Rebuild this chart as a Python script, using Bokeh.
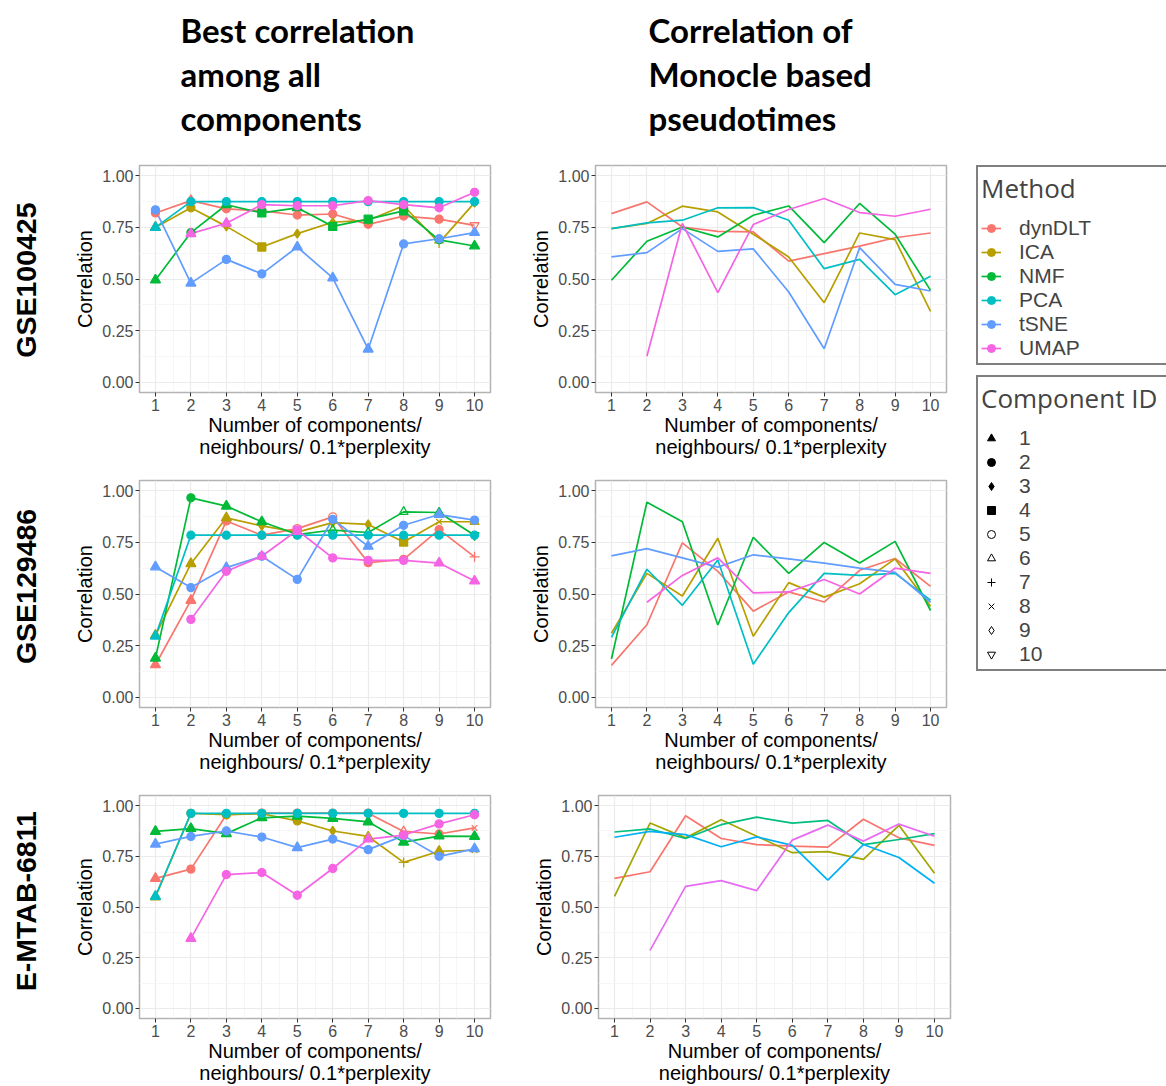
import math
from bokeh.plotting import figure
from bokeh.layouts import row, column
from bokeh.models import (ColumnDataSource, Range1d, FixedTicker, Label, Legend,
                          LegendItem, PrintfTickFormatter)
from bokeh.embed import file_html
from bokeh.resources import INLINE

nan = float("nan")

# ---------------------------------------------------------------- data
steps = [1, 2, 3, 4, 5, 6, 7, 8, 9, 10]
methods = ["dynDLT", "ICA", "NMF", "PCA", "tSNE", "UMAP"]
method_colors = ["#F8766D", "#B79F00", "#00BA38", "#00BFC4", "#619CFF", "#F564E3"]
methods_five = ["dynDLT", "ICA", "NMF", "PCA", "UMAP"]
colors_five = ["#F8766D", "#A3A500", "#00BF7D", "#00B0F6", "#E76BF3"]
component_ids = [1, 2, 3, 4, 5, 6, 7, 8, 9, 10]
datasets = ["GSE100425", "GSE129486", "E-MTAB-6811"]

# best correlation among all components, with the component that achieved it
best_gse100425 = {
    "dynDLT": [0.82, 0.88, 0.84, 0.83, 0.81, 0.815, 0.765, 0.805, 0.79, 0.76],
    "ICA":    [0.75, 0.845, 0.755, 0.655, 0.72, 0.775, 0.785, 0.855, 0.675, 0.87],
    "NMF":    [0.495, 0.725, 0.86, 0.82, 0.845, 0.755, 0.79, 0.83, 0.69, 0.66],
    "PCA":    [0.75, 0.875, 0.875, 0.875, 0.875, 0.875, 0.875, 0.875, 0.875, 0.875],
    "tSNE":   [0.835, 0.48, 0.595, 0.525, 0.655, 0.505, 0.16, 0.67, 0.695, 0.725],
    "UMAP":   [nan, 0.72, 0.77, 0.86, 0.855, 0.855, 0.88, 0.86, 0.845, 0.92],
}
comp_gse100425 = {
    "dynDLT": [2, 1, 2, 2, 2, 2, 2, 2, 2, 10],
    "ICA":    [1, 2, 3, 4, 3, 3, 3, 3, 7, 3],
    "NMF":    [1, 2, 1, 4, 1, 4, 4, 4, 2, 1],
    "PCA":    [1, 2, 2, 2, 2, 2, 2, 2, 2, 2],
    "tSNE":   [2, 1, 2, 2, 1, 1, 1, 2, 2, 1],
    "UMAP":   [0, 1, 1, 2, 2, 2, 2, 2, 2, 2],
}
best_gse129486 = {
    "dynDLT": [0.157, 0.469, 0.854, 0.785, 0.817, 0.874, 0.652, 0.668, 0.812, 0.68],
    "ICA":    [0.30, 0.647, 0.869, 0.83, 0.80, 0.846, 0.837, 0.752, 0.85, 0.85],
    "NMF":    [0.189, 0.966, 0.926, 0.85, 0.788, 0.81, 0.798, 0.898, 0.895, 0.785],
    "PCA":    [0.296, 0.785, 0.785, 0.785, 0.785, 0.785, 0.785, 0.785, 0.785, 0.785],
    "tSNE":   [0.631, 0.531, 0.628, 0.683, 0.571, 0.862, 0.731, 0.833, 0.885, 0.858],
    "UMAP":   [nan, 0.377, 0.61, 0.683, 0.809, 0.675, 0.663, 0.663, 0.65, 0.563],
}
comp_gse129486 = {
    "dynDLT": [1, 1, 2, 2, 5, 5, 2, 2, 2, 7],
    "ICA":    [1, 1, 1, 3, 3, 3, 3, 4, 8, 6],
    "NMF":    [1, 2, 1, 1, 2, 6, 6, 6, 6, 10],
    "PCA":    [1, 2, 2, 2, 2, 2, 2, 2, 2, 2],
    "tSNE":   [1, 2, 1, 2, 2, 2, 1, 2, 1, 2],
    "UMAP":   [0, 2, 2, 1, 4, 2, 2, 2, 1, 1],
}
best_emtab6811 = {
    "dynDLT": [0.641, 0.687, 0.955, 0.963, 0.963, 0.963, 0.963, 0.873, 0.86, 0.89],
    "ICA":    [0.55, 0.962, 0.955, 0.96, 0.925, 0.875, 0.848, 0.72, 0.775, 0.78],
    "NMF":    [0.873, 0.887, 0.862, 0.94, 0.948, 0.937, 0.92, 0.82, 0.85, 0.848],
    "PCA":    [0.552, 0.962, 0.962, 0.962, 0.962, 0.962, 0.962, 0.962, 0.962, 0.962],
    "tSNE":   [0.81, 0.848, 0.875, 0.845, 0.793, 0.835, 0.783, 0.852, 0.75, 0.787],
    "UMAP":   [nan, 0.345, 0.66, 0.67, 0.558, 0.69, 0.835, 0.855, 0.91, 0.955],
}
comp_emtab6811 = {
    "dynDLT": [1, 2, 2, 2, 2, 2, 2, 6, 2, 8],
    "ICA":    [1, 2, 2, 2, 2, 3, 6, 7, 1, 8],
    "NMF":    [1, 1, 1, 1, 1, 1, 1, 1, 1, 1],
    "PCA":    [1, 2, 2, 2, 2, 2, 2, 2, 2, 2],
    "tSNE":   [1, 2, 2, 2, 1, 2, 2, 2, 2, 1],
    "UMAP":   [0, 1, 2, 2, 2, 2, 1, 2, 2, 2],
}

# correlation of Monocle based pseudotimes
monocle_gse100425 = {
    "dynDLT": [0.817, 0.874, 0.752, 0.731, 0.728, 0.587, 0.623, 0.659, 0.70, 0.723],
    "ICA":    [0.744, 0.769, 0.853, 0.825, 0.717, 0.607, 0.385, 0.723, 0.691, 0.343],
    "NMF":    [0.494, 0.683, 0.752, 0.704, 0.809, 0.854, 0.676, 0.866, 0.717, 0.445],
    "PCA":    [0.744, 0.772, 0.785, 0.845, 0.846, 0.785, 0.55, 0.595, 0.424, 0.513],
    "tSNE":   [0.607, 0.628, 0.744, 0.634, 0.646, 0.437, 0.162, 0.652, 0.474, 0.442],
    "UMAP":   [nan, 0.126, 0.769, 0.434, 0.764, 0.837, 0.89, 0.822, 0.804, 0.838],
}
monocle_gse129486 = {
    "dynDLT": [0.154, 0.351, 0.748, 0.61, 0.417, 0.51, 0.461, 0.615, 0.672, 0.537],
    "ICA":    [0.31, 0.60, 0.49, 0.77, 0.295, 0.555, 0.485, 0.55, 0.67, 0.44],
    "NMF":    [0.185, 0.945, 0.85, 0.35, 0.775, 0.60, 0.75, 0.65, 0.755, 0.42],
    "PCA":    [0.29, 0.62, 0.445, 0.665, 0.16, 0.41, 0.60, 0.59, 0.60, 0.47],
    "tSNE":   [0.685, 0.72, 0.675, 0.63, 0.69, 0.67, 0.65, 0.625, 0.605, 0.46],
    "UMAP":   [nan, 0.46, 0.59, 0.675, 0.505, 0.51, 0.57, 0.50, 0.625, 0.60],
}
monocle_emtab6811 = {
    "dynDLT": [0.641, 0.674, 0.95, 0.838, 0.808, 0.80, 0.795, 0.933, 0.841, 0.804],
    "ICA":    [0.553, 0.914, 0.841, 0.93, 0.849, 0.768, 0.773, 0.735, 0.903, 0.666],
    "NMF":    [0.87, 0.885, 0.838, 0.906, 0.943, 0.914, 0.927, 0.808, 0.833, 0.862],
    "PCA":    [0.844, 0.873, 0.857, 0.797, 0.846, 0.804, 0.633, 0.808, 0.744, 0.617],
    "UMAP":   [nan, 0.286, 0.602, 0.63, 0.581, 0.83, 0.904, 0.825, 0.909, 0.849],
}

# ---------------------------------------------------------------- styling
AXIS_FONT = "Liberation Sans"
X_TITLE = "Number of components/\nneighbours/ 0.1*perplexity"

# component id -> (marker, filled, size)
MARKERS = {
    1: ("triangle", True, 10), 2: ("circle", True, 8), 3: ("diamond", True, 9),
    4: ("square", True, 8), 5: ("circle", False, 8), 6: ("triangle", False, 9),
    7: ("cross", False, 10), 8: ("x", False, 8), 9: ("diamond", False, 10),
    10: ("inverted_triangle", False, 9),
}


def panel(values, colors, names, comps=None, height=315, left=89, right=15,
          bottom=73):
    p = figure(width=455, height=height, x_range=Range1d(0.55, 10.45),
               y_range=Range1d(-0.05, 1.05), output_backend="svg",
               toolbar_location=None, min_border_left=left,
               min_border_right=right, min_border_top=15,
               min_border_bottom=bottom)
    p.background_fill_color = "white"
    p.border_fill_color = "white"
    p.outline_line_color = "#B3B3B3"
    p.outline_line_width = 1.5

    p.xaxis.ticker = FixedTicker(ticks=steps,
                                 minor_ticks=[s + 0.5 for s in steps[:-1]])
    p.yaxis.ticker = FixedTicker(ticks=[0, 0.25, 0.5, 0.75, 1.0],
                                 minor_ticks=[0.125, 0.375, 0.625, 0.875])
    p.yaxis.formatter = PrintfTickFormatter(format="%.2f")
    p.xgrid.grid_line_color = "#EBEBEB"
    p.ygrid.grid_line_color = "#EBEBEB"
    p.xgrid.grid_line_width = 1.2
    p.ygrid.grid_line_width = 1.2
    p.xgrid.minor_grid_line_color = "#F4F4F4"
    p.ygrid.minor_grid_line_color = "#F4F4F4"
    p.xgrid.minor_grid_line_width = 0.8
    p.ygrid.minor_grid_line_width = 0.8

    p.axis.axis_line_color = None
    p.axis.major_tick_line_color = "#333333"
    p.axis.major_tick_out = 4
    p.axis.major_tick_in = 0
    p.axis.minor_tick_line_color = None
    p.axis.major_label_text_font = AXIS_FONT
    p.axis.major_label_text_font_size = "16px"
    p.axis.major_label_text_color = "#4D4D4D"
    p.axis.major_label_standoff = 2
    p.axis.axis_label_text_font = AXIS_FONT
    p.axis.axis_label_text_font_size = "20px"
    p.axis.axis_label_text_font_style = "normal"
    p.axis.axis_label_text_color = "black"
    p.axis.axis_label_standoff = 3
    p.xaxis.axis_label_standoff = 0
    p.xaxis.axis_label = X_TITLE
    p.xaxis.axis_label_text_line_height = 1.0
    p.yaxis.axis_label = "Correlation"

    for name, color in zip(names, colors):
        p.line(steps, values[name], line_color=color, line_width=1.7)

    if comps is not None:
        for name, color in zip(names, colors):
            xs, ys, mk, fa, sz = [], [], [], [], []
            for s, v, c in zip(steps, values[name], comps[name]):
                if c == 0 or v != v:
                    continue
                m, filled, size = MARKERS[c]
                xs.append(s)
                ys.append(v)
                mk.append(m)
                fa.append(1.0 if filled else 0.0)
                sz.append(size)
            src = ColumnDataSource(dict(x=xs, y=ys, marker=mk, fill_alpha=fa,
                                        size=sz))
            p.scatter("x", "y", source=src, marker="marker", size="size",
                      fill_color=color, line_color=color,
                      fill_alpha="fill_alpha", line_width=1.3)
    return p


def side_label(text, height, yc):
    f = figure(width=50, height=height, x_range=Range1d(0, 50),
               y_range=Range1d(0, height), x_axis_type=None, y_axis_type=None,
               min_border=0, outline_line_color=None, toolbar_location=None,
               output_backend="svg")
    f.add_layout(Label(x=25, y=yc, text=text, angle=math.pi / 2,
                       text_align="center", text_baseline="middle",
                       text_font=AXIS_FONT, text_font_style="bold",
                       text_font_size="28.5px", text_color="black"))
    return f


# ---------------------------------------------------------------- titles
head = figure(width=960, height=150, x_range=Range1d(0, 960),
              y_range=Range1d(0, 150), x_axis_type=None, y_axis_type=None,
              min_border=0, outline_line_color=None, toolbar_location=None,
              output_backend="svg")
left_title = ["Best correlation", "among all", "components"]
right_title = ["Correlation of", "Monocle based", "pseudotimes"]
for i, (lt, rt) in enumerate(zip(left_title, right_title)):
    yy = 121 - 44 * i
    for xx, t in ((180, lt), (648, rt)):
        head.add_layout(Label(x=xx, y=yy, text=t, text_align="left",
                              text_baseline="middle", text_font="Lato",
                              text_font_style="bold", text_font_size="33px",
                              text_color="black"))

# ---------------------------------------------------------------- panels
p1 = panel(best_gse100425, method_colors, methods, comp_gse100425)
q1 = panel(monocle_gse100425, method_colors, methods, left=90, right=14)
p2 = panel(best_gse129486, method_colors, methods, comp_gse129486)
q2 = panel(monocle_gse129486, method_colors, methods, left=90, right=14)
p3 = panel(best_emtab6811, method_colors, methods, comp_emtab6811,
           height=306, bottom=64)
q3 = panel(monocle_emtab6811, colors_five, methods_five, left=93, right=10,
           height=306, bottom=64)

rows = [
    row(side_label(datasets[0], 315, 156), p1, q1),
    row(side_label(datasets[1], 315, 168), p2, q2),
    row(side_label(datasets[2], 306, 161), p3, q3),
]

# ---------------------------------------------------------------- legends
lg = figure(width=206, height=1086, x_range=Range1d(0, 206),
            y_range=Range1d(0, 1086), x_axis_type=None, y_axis_type=None,
            min_border=0, outline_line_color=None, toolbar_location=None,
            output_backend="svg")

method_items = []
for name, color in zip(methods, method_colors):
    ln = lg.line(x=[nan], y=[nan], line_color=color, line_width=1.7)
    pt = lg.scatter(x=[nan], y=[nan], marker="circle", size=8, color=color)
    method_items.append(LegendItem(label=name, renderers=[ln, pt]))

comp_items = []
for cid in component_ids:
    m, filled, size = MARKERS[cid]
    r = lg.scatter(x=[nan], y=[nan], marker=m, size=size, line_color="black",
                   fill_color="black" if filled else None, line_width=1.0)
    comp_items.append(LegendItem(label=str(cid), renderers=[r]))

common = dict(orientation="vertical", border_line_color="black",
              border_line_width=2.5, padding=3, spacing=0, margin=0,
              glyph_width=20, glyph_height=20, label_height=20,
              label_width=170, label_standoff=18,
              label_text_font=AXIS_FONT, label_text_font_size="21px",
              title_text_font="Open Sans", title_text_font_size="26px",
              title_text_font_style="normal", title_standoff=10,
              background_fill_color="white", background_fill_alpha=1.0)
lg.add_layout(Legend(items=method_items, title="Method", location=(16, 721),
                     **common))
lg.add_layout(Legend(items=comp_items, title="Component ID",
                     location=(16, 415), **common))

layout = row(column(head, *rows), lg)
open("out.html", "w").write(file_html(layout, INLINE, "Correlation"))
